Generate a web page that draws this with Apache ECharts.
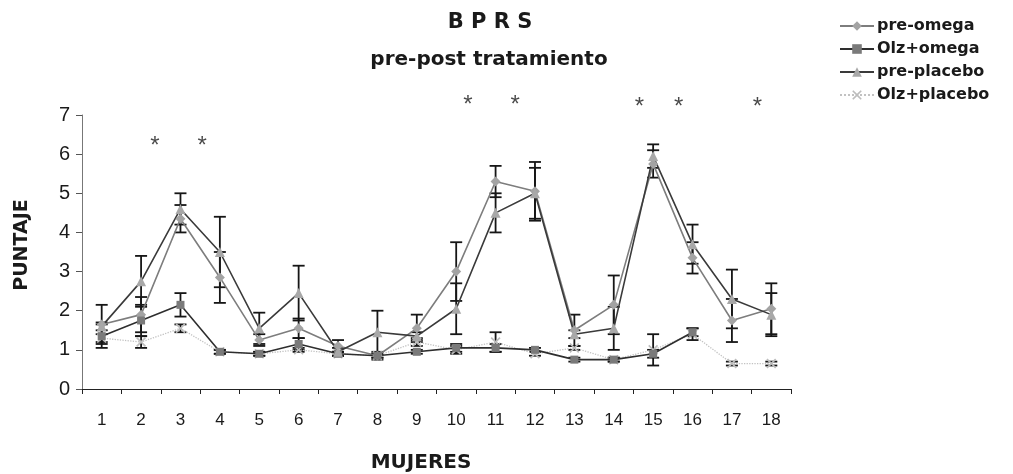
<!DOCTYPE html>
<html>
<head>
<meta charset="utf-8">
<title>BPRS pre-post tratamiento</title>
<script src="https://cdn.jsdelivr.net/npm/echarts@6/dist/echarts.min.js"></script>
<style>
  html, body { margin: 0; padding: 0; background: #fff; }
  #chart { width: 1013px; height: 474px; }
</style>
</head>
<body>
<div id="chart"></div>
<script>
// Participants (x axis)
const categorias = ['1','2','3','4','5','6','7','8','9','10','11','12','13','14','15','16','17','18'];
const yTicks = [0, 1, 2, 3, 4, 5, 6, 7];

// Mean BPRS score per participant and the half-width of its error bar
const preOmega      = [1.65, 1.9, 4.35, 2.85, 1.25, 1.55, 1.1, 0.85, 1.55, 3.0, 5.3, 5.05, 1.5, 2.15, 5.75, 3.35, 1.75, 2.05];
const preOmegaErr   = [0.5, 0.45, 0.35, 0.65, 0.15, 0.25, 0.15, 0.1, 0.35, 0.75, 0.4, 0.75, 0.4, 0.75, 0.35, 0.4, 0.55, 0.65];
const olzOmega      = [1.35, 1.75, 2.15, 0.95, 0.9, 1.15, 0.9, 0.85, 0.95, 1.05, 1.05, 1.0, 0.75, 0.75, 0.9, 1.45, null, null];
const olzOmegaErr   = [0.3, 0.4, 0.3, 0.05, 0.05, 0.15, 0.05, 0.05, 0.05, 0.1, 0.1, 0.05, 0.05, 0.05, 0.1, 0.1, null, null];
const prePlacebo    = [1.6, 2.75, 4.6, 3.5, 1.55, 2.45, 0.95, 1.45, 1.35, 2.05, 4.5, 5.0, 1.4, 1.55, 5.95, 3.7, 2.3, 1.9];
const prePlaceboErr = [0.1, 0.65, 0.4, 0.9, 0.4, 0.7, 0.1, 0.55, 0.1, 0.65, 0.5, 0.65, 0.1, 0.55, 0.3, 0.5, 0.75, 0.55];
const olzPlacebo    = [1.3, 1.2, 1.55, 0.95, 0.9, 1.0, 0.9, 0.85, 1.2, 1.0, 1.2, 0.9, 1.05, 0.75, 1.0, 1.4, 0.65, 0.65];
const olzPlaceboErr = [0.1, 0.15, 0.1, 0.05, 0.05, 0.05, 0.05, 0.05, 0.1, 0.1, 0.25, 0.05, 0.05, 0.05, 0.4, 0.15, 0.05, 0.05];

// Significance marks: [x position on the participant scale, height]
const asteriscos = [[2.35, 6.2], [3.55, 6.2], [10.3, 7.25], [11.5, 7.25], [14.65, 7.2], [15.65, 7.2], [17.65, 7.2]];

const nombres = ['pre-omega', 'Olz+omega', 'pre-placebo', 'Olz+placebo'];

// Error bar segments [index, low, high] for every series
const errores = [];
[[preOmega, preOmegaErr], [olzOmega, olzOmegaErr], [prePlacebo, prePlaceboErr], [olzPlacebo, olzPlaceboErr]]
  .forEach(function (par) {
    par[0].forEach(function (v, i) {
      const e = par[1][i];
      if (v == null || e == null) return;
      errores.push([i, v - e, v + e]);
    });
  });

const cruz = 'path://M0,1.2 L1.2,0 L5,3.8 L8.8,0 L10,1.2 L6.2,5 L10,8.8 L8.8,10 L5,6.2 L1.2,10 L0,8.8 L3.8,5 Z';
const fuente = 'DejaVu Sans';

const chart = echarts.init(document.getElementById('chart'), null, { renderer: 'canvas' });

chart.setOption({
  animation: false,
  backgroundColor: '#ffffff',
  grid: { left: 82, right: 222, top: 115, bottom: 85, containLabel: false },
  legend: {
    data: nombres,
    orient: 'vertical',
    left: 834,
    top: 13,
    itemWidth: 34,
    itemHeight: 12,
    itemGap: 7,
    textStyle: { fontFamily: fuente, fontWeight: 'bold', fontSize: 16, color: '#1a1a1a', padding: [0, 0, 0, -2] }
  },
  xAxis: [
    {
      type: 'category',
      data: categorias,
      boundaryGap: true,
      axisLine: { lineStyle: { color: '#222', width: 1.2 } },
      axisTick: { show: true, length: 5, lineStyle: { color: '#222' } },
      axisLabel: { margin: 23, fontFamily: 'Liberation Sans', fontSize: 17, color: '#1a1a1a' }
    },
    {
      type: 'value',
      min: 0.5,
      max: 18.5,
      show: false
    }
  ],
  yAxis: {
    type: 'value',
    min: yTicks[0],
    max: yTicks[yTicks.length - 1],
    interval: 1,
    splitLine: { show: false },
    axisLine: { show: true, lineStyle: { color: '#777', width: 1 } },
    axisTick: { show: true, length: 6, lineStyle: { color: '#555' } },
    axisLabel: { margin: 12, fontFamily: 'Liberation Sans', fontSize: 20, color: '#1a1a1a' }
  },
  graphic: [
    { type: 'text', x: 490, y: 23, style: { text: 'B P R S', fontFamily: fuente, fontWeight: 'bold', fontSize: 21, fill: '#1a1a1a', align: 'center', verticalAlign: 'middle' } },
    { type: 'text', x: 489, y: 60, style: { text: 'pre-post tratamiento', fontFamily: fuente, fontWeight: 'bold', fontSize: 20, fill: '#1a1a1a', align: 'center', verticalAlign: 'middle' } },
    { type: 'text', x: 22, y: 245, rotation: Math.PI / 2, style: { text: 'PUNTAJE', fontFamily: fuente, fontWeight: 'bold', fontSize: 19, fill: '#1a1a1a', align: 'center', verticalAlign: 'middle' } },
    { type: 'text', x: 421, y: 463, style: { text: 'MUJERES', fontFamily: fuente, fontWeight: 'bold', fontSize: 20, fill: '#1a1a1a', align: 'center', verticalAlign: 'middle' } }
  ],
  series: [
    {
      name: 'errores',
      type: 'custom',
      z: 1,
      data: errores,
      encode: { x: 0, y: [1, 2] },
      renderItem: function (params, api) {
        const i = api.value(0);
        const lo = api.coord([i, api.value(1)]);
        const hi = api.coord([i, api.value(2)]);
        const w = 6;
        const st = { stroke: '#161616', lineWidth: 1.8 };
        return {
          type: 'group',
          children: [
            { type: 'line', shape: { x1: lo[0], y1: lo[1], x2: hi[0], y2: hi[1] }, style: st },
            { type: 'line', shape: { x1: hi[0] - w, y1: hi[1], x2: hi[0] + w, y2: hi[1] }, style: st },
            { type: 'line', shape: { x1: lo[0] - w, y1: lo[1], x2: lo[0] + w, y2: lo[1] }, style: st }
          ]
        };
      }
    },
    {
      name: 'pre-omega',
      type: 'line',
      z: 3,
      data: preOmega,
      symbol: 'diamond',
      symbolSize: 10,
      lineStyle: { color: '#7d7d7d', width: 1.6 },
      itemStyle: { color: '#a3a3a3' }
    },
    {
      name: 'Olz+omega',
      type: 'line',
      z: 3,
      data: olzOmega,
      symbol: 'rect',
      symbolSize: 8,
      lineStyle: { color: '#2e2e2e', width: 1.6 },
      itemStyle: { color: '#7a7a7a' }
    },
    {
      name: 'pre-placebo',
      type: 'line',
      z: 3,
      data: prePlacebo,
      symbol: 'triangle',
      symbolSize: 10,
      lineStyle: { color: '#3a3a3a', width: 1.6 },
      itemStyle: { color: '#a8a8a8' }
    },
    {
      name: 'Olz+placebo',
      type: 'line',
      z: 2,
      data: olzPlacebo,
      symbol: cruz,
      symbolSize: 10,
      lineStyle: { color: '#c2c2c2', width: 1.3, type: 'dotted' },
      itemStyle: { color: '#bdbdbd' }
    },
    {
      name: 'asteriscos',
      type: 'scatter',
      xAxisIndex: 1,
      clip: false,
      z: 4,
      data: asteriscos,
      symbolSize: 1,
      itemStyle: { color: 'rgba(0,0,0,0)' },
      label: {
        show: true,
        position: 'inside',
        formatter: '*',
        fontFamily: 'Liberation Sans',
        fontSize: 24,
        color: '#1a1a1a'
      }
    }
  ]
});
</script>
</body>
</html>
